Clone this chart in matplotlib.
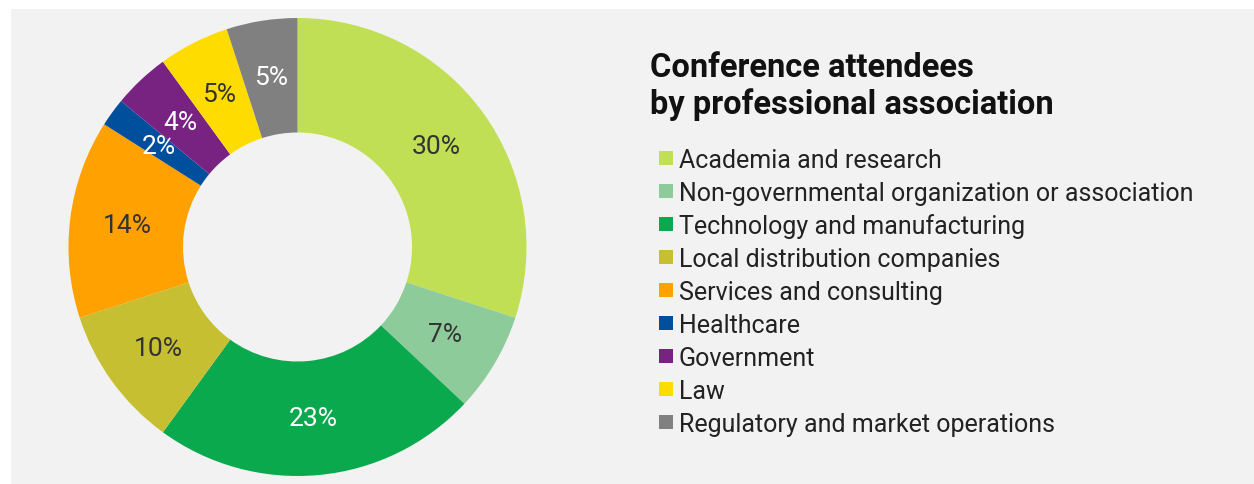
import matplotlib
matplotlib.use("Agg")
import matplotlib.pyplot as plt
from matplotlib.patches import Rectangle
import numpy as np

categories = ["Academia and research",
              "Non-governmental organization or association",
              "Technology and manufacturing",
              "Local distribution companies",
              "Services and consulting",
              "Healthcare",
              "Government",
              "Law",
              "Regulatory and market operations"]
values = [30, 7, 23, 10, 14, 2, 4, 5, 5]
colors = ["#c0df55", "#8ecb9b", "#0aa94e", "#c6bf32", "#ffa100",
          "#004f9c", "#782282", "#ffdc00", "#808080"]
label_colors = ["#333333", "#333333", "white", "#333333", "#333333",
                "white", "white", "#333333", "white"]
title = "Conference attendees\nby professional association"

W, H = 1254, 485
plt.rcParams['font.family'] = ['Roboto', 'DejaVu Sans']
fig = plt.figure(figsize=(W / 100, H / 100), dpi=100)
fig.patch.set_facecolor("white")

# grey panel
fig.patches.append(Rectangle((11 / W, 0), (W - 11) / W, (H - 10) / H,
                             transform=fig.transFigure, facecolor="#f2f2f2",
                             edgecolor="none", zorder=-10))

cx, cy, R = 297.5, 248, 229
ax = fig.add_axes([(cx - R) / W, (H - cy - R) / H, 2 * R / W, 2 * R / H])
ax.set_zorder(5)
ax.set_facecolor("none")
wedges, _ = ax.pie(values, colors=colors, startangle=90, counterclock=False,
                   radius=1.0, wedgeprops=dict(width=0.5, edgecolor="none"))
ax.set_xlim(-1, 1)
ax.set_ylim(-1, 1)
ax.set_aspect("equal")
ax.axis("off")

for w, v, lc in zip(wedges, values, label_colors):
    ang = np.deg2rad((w.theta1 + w.theta2) / 2)
    ax.text(0.75 * np.cos(ang), 0.75 * np.sin(ang), f"{v}%",
            ha="center", va="center", fontsize=19, color=lc)

# title
fig.text(650 / W, 1 - 77 / H, title.split("\n")[0], fontsize=23.5,
         fontweight="bold", color="#111111", ha="left", va="baseline")
fig.text(650 / W, 1 - 114 / H, title.split("\n")[1], fontsize=23.5,
         fontweight="bold", color="#111111", ha="left", va="baseline")

# legend
for i, (c, col) in enumerate(zip(categories, colors)):
    base = 168 + i * 33
    fig.patches.append(Rectangle((659 / W, 1 - (base - 2) / H), 14 / W, 14 / H,
                                 transform=fig.transFigure, facecolor=col,
                                 edgecolor="none", zorder=2))
    fig.text(679 / W, 1 - base / H, c, fontsize=18, color="#222222",
             ha="left", va="baseline")

fig.savefig("out.png", dpi=100, facecolor="white")
